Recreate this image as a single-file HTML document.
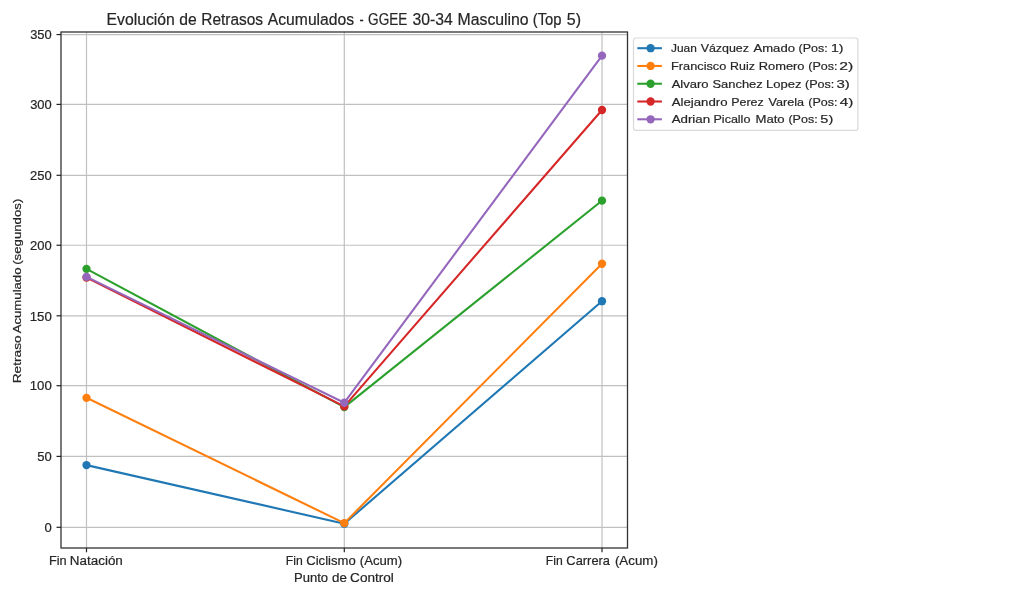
<!DOCTYPE html><html><head><meta charset="utf-8"><style>html,body{margin:0;padding:0;background:#fff;width:1024px;height:597px;overflow:hidden}svg{display:block;will-change:transform}text{font-family:"Liberation Sans",sans-serif;fill:#262626;stroke:#262626;stroke-width:0.2}</style></head><body>
<svg width="1024" height="597" viewBox="0 0 1024 597">
<rect x="0" y="0" width="1024" height="597" fill="#fff"/>
<g stroke="#c0c0c0" stroke-width="1.2" fill="none">
<line x1="61.0" y1="527.3" x2="627.5" y2="527.3"/>
<line x1="61.0" y1="456.4" x2="627.5" y2="456.4"/>
<line x1="61.0" y1="385.7" x2="627.5" y2="385.7"/>
<line x1="61.0" y1="315.8" x2="627.5" y2="315.8"/>
<line x1="61.0" y1="245.25" x2="627.5" y2="245.25"/>
<line x1="61.0" y1="175.3" x2="627.5" y2="175.3"/>
<line x1="61.0" y1="104.4" x2="627.5" y2="104.4"/>
<line x1="61.0" y1="34.55" x2="627.5" y2="34.55"/>
<line x1="86.5" y1="32.0" x2="86.5" y2="548.0"/>
<line x1="344.3" y1="32.0" x2="344.3" y2="548.0"/>
<line x1="602.0" y1="32.0" x2="602.0" y2="548.0"/>
</g>
<polyline points="86.50,465.12 344.30,523.70 602.00,301.22" fill="none" stroke="#1f77b4" stroke-width="2.08" stroke-linejoin="round" stroke-linecap="square"/>
<circle cx="86.50" cy="465.12" r="4.15" fill="#1f77b4"/>
<circle cx="344.30" cy="523.70" r="4.15" fill="#1f77b4"/>
<circle cx="602.00" cy="301.22" r="4.15" fill="#1f77b4"/>
<polyline points="86.50,397.81 344.30,523.14 602.00,263.76" fill="none" stroke="#ff7f0e" stroke-width="2.08" stroke-linejoin="round" stroke-linecap="square"/>
<circle cx="86.50" cy="397.81" r="4.15" fill="#ff7f0e"/>
<circle cx="344.30" cy="523.14" r="4.15" fill="#ff7f0e"/>
<circle cx="602.00" cy="263.76" r="4.15" fill="#ff7f0e"/>
<polyline points="86.50,268.83 344.30,407.11 602.00,200.68" fill="none" stroke="#2ca02c" stroke-width="2.08" stroke-linejoin="round" stroke-linecap="square"/>
<circle cx="86.50" cy="268.83" r="4.15" fill="#2ca02c"/>
<circle cx="344.30" cy="407.11" r="4.15" fill="#2ca02c"/>
<circle cx="602.00" cy="200.68" r="4.15" fill="#2ca02c"/>
<polyline points="86.50,277.56 344.30,406.40 602.00,109.99" fill="none" stroke="#d62728" stroke-width="2.08" stroke-linejoin="round" stroke-linecap="square"/>
<circle cx="86.50" cy="277.56" r="4.15" fill="#d62728"/>
<circle cx="344.30" cy="406.40" r="4.15" fill="#d62728"/>
<circle cx="602.00" cy="109.99" r="4.15" fill="#d62728"/>
<polyline points="86.50,276.86 344.30,402.74 602.00,55.64" fill="none" stroke="#9467bd" stroke-width="2.08" stroke-linejoin="round" stroke-linecap="square"/>
<circle cx="86.50" cy="276.86" r="4.15" fill="#9467bd"/>
<circle cx="344.30" cy="402.74" r="4.15" fill="#9467bd"/>
<circle cx="602.00" cy="55.64" r="4.15" fill="#9467bd"/>
<rect x="61.0" y="32.0" width="566.5" height="516.0" fill="none" stroke="#333" stroke-width="1.3"/>
<g stroke="#222" stroke-width="1.2">
<line x1="56.5" y1="527.3" x2="61.0" y2="527.3"/>
<line x1="56.5" y1="456.4" x2="61.0" y2="456.4"/>
<line x1="56.5" y1="385.7" x2="61.0" y2="385.7"/>
<line x1="56.5" y1="315.8" x2="61.0" y2="315.8"/>
<line x1="56.5" y1="245.25" x2="61.0" y2="245.25"/>
<line x1="56.5" y1="175.3" x2="61.0" y2="175.3"/>
<line x1="56.5" y1="104.4" x2="61.0" y2="104.4"/>
<line x1="56.5" y1="34.55" x2="61.0" y2="34.55"/>
<line x1="86.5" y1="548.0" x2="86.5" y2="552.3"/>
<line x1="344.3" y1="548.0" x2="344.3" y2="552.3"/>
<line x1="602.0" y1="548.0" x2="602.0" y2="552.3"/>
</g>
<text transform="translate(44.48,532.00) scale(1.0352,1)" font-size="12.61">0</text>
<text transform="translate(37.28,461.10) scale(1.0318,1)" font-size="12.61">50</text>
<text transform="translate(29.71,390.40) scale(1.0489,1)" font-size="12.61">100</text>
<text transform="translate(29.71,320.50) scale(1.0489,1)" font-size="12.61">150</text>
<text transform="translate(30.05,249.95) scale(1.0323,1)" font-size="12.61">200</text>
<text transform="translate(30.05,180.00) scale(1.0323,1)" font-size="12.61">250</text>
<text transform="translate(30.18,109.10) scale(1.0258,1)" font-size="12.61">300</text>
<text transform="translate(30.18,39.25) scale(1.0258,1)" font-size="12.61">350</text>
<text transform="translate(48.88,565.10) scale(1.0367,1)" font-size="12.32">Fin</text>
<text transform="translate(69.82,565.10) scale(1.0916,1)" font-size="12.32">Natación</text>
<text transform="translate(285.72,565.10) scale(0.9911,1)" font-size="12.32">Fin</text>
<text transform="translate(306.24,565.10) scale(1.0640,1)" font-size="12.32">Ciclismo</text>
<text transform="translate(359.81,565.10) scale(1.0658,1)" font-size="12.32">(Acum)</text>
<text transform="translate(545.82,565.10) scale(0.9911,1)" font-size="12.32">Fin</text>
<text transform="translate(566.36,565.10) scale(1.0451,1)" font-size="12.32">Carrera</text>
<text transform="translate(614.90,565.10) scale(1.0815,1)" font-size="12.32">(Acum)</text>
<text transform="translate(293.96,581.50) scale(1.0983,1)" font-size="11.88">Punto</text>
<text transform="translate(331.97,581.50) scale(1.1247,1)" font-size="11.88">de</text>
<text transform="translate(350.12,581.50) scale(1.1436,1)" font-size="11.88">Control</text>
<text transform="translate(21.10,382.20) rotate(-90) translate(-1.10,0) scale(1.1694,1)" font-size="11.74">Retraso</text>
<text transform="translate(21.10,333.20) rotate(-90) translate(-0.07,0) scale(1.1209,1)" font-size="11.74">Acumulado</text>
<text transform="translate(21.10,264.00) rotate(-90) translate(-0.79,0) scale(1.1259,1)" font-size="11.74">(segundos)</text>
<text transform="translate(106.54,24.60) scale(0.9792,1)" font-size="16.09">Evolución</text>
<text transform="translate(179.27,24.60) scale(0.9764,1)" font-size="16.09">de</text>
<text transform="translate(201.26,24.60) scale(0.9600,1)" font-size="16.09">Retrasos</text>
<text transform="translate(267.82,24.60) scale(0.9748,1)" font-size="16.09">Acumulados</text>
<text transform="translate(359.43,24.60) scale(0.7865,1)" font-size="16.09">-</text>
<text transform="translate(368.12,24.60) scale(0.8458,1)" font-size="16.09">GGEE</text>
<text transform="translate(412.57,24.60) scale(0.9781,1)" font-size="16.09">30-34</text>
<text transform="translate(457.54,24.60) scale(0.9821,1)" font-size="16.09">Masculino</text>
<text transform="translate(532.81,24.60) scale(0.9198,1)" font-size="16.09">(Top</text>
<text transform="translate(566.76,24.60) scale(0.9978,1)" font-size="16.09">5)</text>
<rect x="633.5" y="38.0" width="224.4" height="92.4" rx="2.5" ry="2.5" fill="#fff" fill-opacity="0.8" stroke="#d9d9d9" stroke-width="1.2"/>
<line x1="637.3" y1="48.20" x2="661.9" y2="48.20" stroke="#1f77b4" stroke-width="2.08"/>
<circle cx="650.6" cy="48.20" r="4.15" fill="#1f77b4"/>
<text transform="translate(671.02,52.22) scale(1.0132,1)" font-size="11.74">Juan</text>
<text transform="translate(700.64,52.22) scale(1.0595,1)" font-size="11.74">Vázquez</text>
<text transform="translate(753.53,52.22) scale(1.1140,1)" font-size="11.74">Amado</text>
<text transform="translate(798.55,52.22) scale(1.0629,1)" font-size="11.74">(Pos:</text>
<text transform="translate(830.94,52.22) scale(1.2040,1)" font-size="11.74">1)</text>
<line x1="637.3" y1="65.97" x2="661.9" y2="65.97" stroke="#ff7f0e" stroke-width="2.08"/>
<circle cx="650.6" cy="65.97" r="4.15" fill="#ff7f0e"/>
<text transform="translate(671.08,70.03) scale(1.0853,1)" font-size="11.74">Francisco</text>
<text transform="translate(730.11,70.03) scale(1.0568,1)" font-size="11.74">Ruiz</text>
<text transform="translate(758.67,70.03) scale(1.0986,1)" font-size="11.74">Romero</text>
<text transform="translate(808.35,70.03) scale(1.0668,1)" font-size="11.74">(Pos:</text>
<text transform="translate(839.31,70.03) scale(1.3410,1)" font-size="11.74">2)</text>
<line x1="637.3" y1="83.74" x2="661.9" y2="83.74" stroke="#2ca02c" stroke-width="2.08"/>
<circle cx="650.6" cy="83.74" r="4.15" fill="#2ca02c"/>
<text transform="translate(671.63,87.84) scale(1.1114,1)" font-size="11.74">Alvaro</text>
<text transform="translate(712.42,87.84) scale(1.1021,1)" font-size="11.74">Sanchez</text>
<text transform="translate(766.05,87.84) scale(1.1128,1)" font-size="11.74">Lopez</text>
<text transform="translate(804.94,87.84) scale(1.0746,1)" font-size="11.74">(Pos:</text>
<text transform="translate(836.50,87.84) scale(1.2805,1)" font-size="11.74">3)</text>
<line x1="637.3" y1="101.51" x2="661.9" y2="101.51" stroke="#d62728" stroke-width="2.08"/>
<circle cx="650.6" cy="101.51" r="4.15" fill="#d62728"/>
<text transform="translate(671.63,105.65) scale(1.1270,1)" font-size="11.74">Alejandro</text>
<text transform="translate(731.20,105.65) scale(1.0614,1)" font-size="11.74">Perez</text>
<text transform="translate(768.54,105.65) scale(1.0732,1)" font-size="11.74">Varela</text>
<text transform="translate(808.35,105.65) scale(1.0668,1)" font-size="11.74">(Pos:</text>
<text transform="translate(839.72,105.65) scale(1.2991,1)" font-size="11.74">4)</text>
<line x1="637.3" y1="119.28" x2="661.9" y2="119.28" stroke="#9467bd" stroke-width="2.08"/>
<circle cx="650.6" cy="119.28" r="4.15" fill="#9467bd"/>
<text transform="translate(671.63,123.46) scale(1.1358,1)" font-size="11.74">Adrian</text>
<text transform="translate(713.50,123.46) scale(1.0675,1)" font-size="11.74">Picallo</text>
<text transform="translate(755.45,123.46) scale(1.1196,1)" font-size="11.74">Mato</text>
<text transform="translate(788.45,123.46) scale(1.0668,1)" font-size="11.74">(Pos:</text>
<text transform="translate(820.32,123.46) scale(1.2371,1)" font-size="11.74">5)</text>
</svg></body></html>
